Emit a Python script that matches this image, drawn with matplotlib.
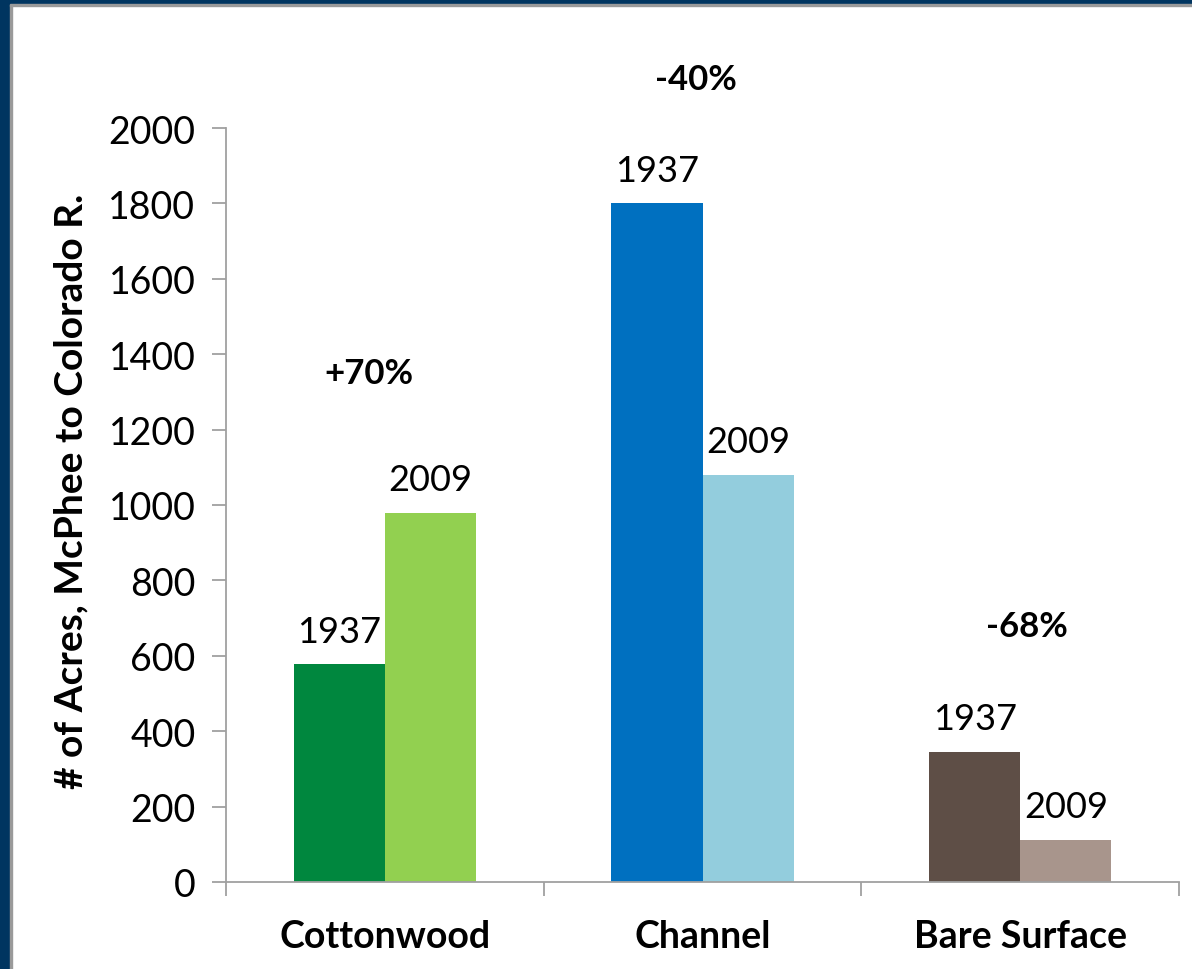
import numpy as np
import matplotlib.pyplot as plt
from matplotlib.patches import Rectangle

plt.rcParams['font.family'] = ['Lato', 'DejaVu Sans']

categories = ['Cottonwood', 'Channel', 'Bare Surface']
acres_1937 = [577, 1800, 345]
acres_2009 = [980, 1080, 111]
change_labels = ['+70%', '-40%', '-68%']
# where each percent-change label sits (offset from group centre, height in acres)
change_pos = [(-0.05, 1350), (-0.02, 2130), (0.02, 680)]

colors_1937 = ['#00873E', '#0070C0', '#5E4E46']
colors_2009 = ['#92D050', '#93CDDD', '#A8958C']

W, H = 1192, 970
fig = plt.figure(figsize=(W / 100, H / 100), dpi=100)
fig.patch.set_facecolor('white')

# slide frame: navy band on left and top with a grey inner edge
navy = '#003560'
grey = '#9a9a9a'
fig.patches.append(Rectangle((0, 0), 10 / W, 1, transform=fig.transFigure, color=navy, zorder=0))
fig.patches.append(Rectangle((10 / W, 0), 2 / W, 1 - 5 / H, transform=fig.transFigure, color=grey, zorder=0))
fig.patches.append(Rectangle((0, 1 - 5 / H), 1, 5 / H, transform=fig.transFigure, color=navy, zorder=0))
fig.patches.append(Rectangle((10 / W, 1 - 7 / H), 1, 2 / H, transform=fig.transFigure, color=grey, zorder=0))

ax = fig.add_axes([226 / W, 87 / H, (1179 - 226) / W, (883 - 129) / H])

x = np.arange(len(categories))
bw = 0.287
b1 = ax.bar(x - bw / 2, acres_1937, bw, color=colors_1937, zorder=2)
b2 = ax.bar(x + bw / 2, acres_2009, bw, color=colors_2009, zorder=2)

for rect in b1:
    ax.annotate('1937', (rect.get_x() + rect.get_width() / 2, rect.get_height()),
                xytext=(0, 12), textcoords='offset points', ha='center', va='bottom', fontsize=26)
for rect in b2:
    ax.annotate('2009', (rect.get_x() + rect.get_width() / 2, rect.get_height()),
                xytext=(0, 12), textcoords='offset points', ha='center', va='bottom', fontsize=26)

for i, (lbl, (dx, yv)) in enumerate(zip(change_labels, change_pos)):
    ax.text(x[i] + dx, yv, lbl, ha='center', va='center', fontsize=25, fontweight='bold', clip_on=False)

ax.set_xlim(-0.5, len(categories) - 0.5)
ax.set_ylim(0, 2000)
ax.set_yticks(np.arange(0, 2001, 200))
ax.tick_params(axis='y', labelsize=27, length=10, width=1.3, color='#a0a0a0', pad=12)

# category boundaries carry the x ticks, names sit between them
ax.set_xticks(np.arange(-0.5, len(categories), 1.0))
ax.set_xticklabels([])
ax.set_xticks(x, minor=True)
ax.set_xticklabels(categories, minor=True, fontsize=27, fontweight='bold')
ax.tick_params(axis='x', which='major', length=10, width=1.3, color='#a0a0a0')
ax.tick_params(axis='x', which='minor', length=0, pad=27)

for side in ['top', 'right']:
    ax.spines[side].set_visible(False)
for side in ['left', 'bottom']:
    ax.spines[side].set_color('#a0a0a0')
    ax.spines[side].set_linewidth(1.3)

ax.set_ylabel('# of Acres, McPhee to Colorado R.', fontsize=28, fontweight='bold')
ax.yaxis.set_label_coords(-0.144, 0.52)

fig.savefig('out.png', dpi=100)
